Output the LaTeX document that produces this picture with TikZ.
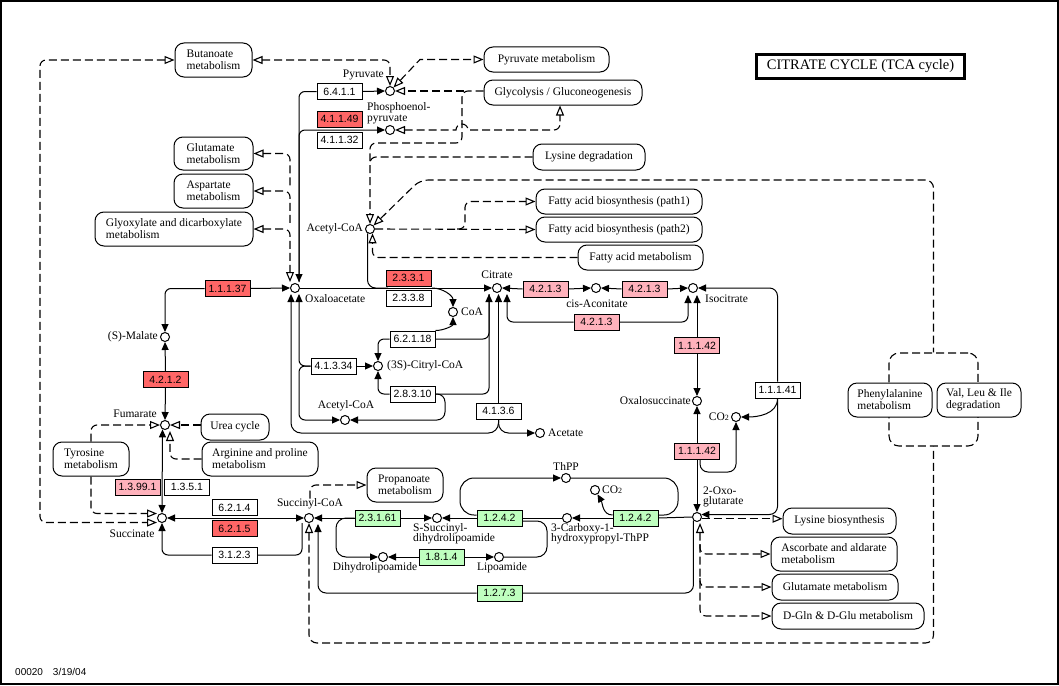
\documentclass[tikz,border=0pt]{standalone}
\usepackage{fontspec}
\setmainfont{Liberation Serif}
\newfontfamily\ecfont{Liberation Sans}
\usetikzlibrary{arrows.meta,calc}
\pgfdeclarelayer{bg}
\pgfsetlayers{bg,main}
\definecolor{ecred}{RGB}{255,102,102}
\definecolor{ecpink}{RGB}{255,178,188}
\definecolor{ecgreen}{RGB}{191,255,191}
\tikzset{
  ec/.style={draw, line width=1pt, minimum width=45pt, minimum height=16pt, inner sep=0pt, fill=white, font=\ecfont\fontsize{10.5}{12}\selectfont},
  cpd/.style={draw, circle, line width=1pt, minimum size=9pt, inner sep=0pt, fill=white},
  lbl/.style={inner sep=0pt, font=\fontsize{11.5}{10.5}\selectfont},
  mapc/.style={draw, line width=1pt, rounded corners=9pt, inner sep=0pt, fill=white, font=\fontsize{11.5}{12}\selectfont},
  mapl/.style={mapc, align=left},
  ln/.style={draw, line width=1pt},
  dl/.style={draw, line width=1.1pt, dash pattern=on 8pt off 4pt},
  aE/.style={-{Triangle[length=8pt,width=7pt]}},
  aB/.style={{Triangle[length=8pt,width=7pt]}-{Triangle[length=8pt,width=7pt]}},
  oE/.style={-{Triangle[open,length=10pt,width=8pt]}},
  oS/.style={{Triangle[open,length=10pt,width=8pt]}-},
  oB/.style={{Triangle[open,length=10pt,width=8pt]}-{Triangle[open,length=10pt,width=8pt]}},
}
\begin{document}
\begin{tikzpicture}[x=1pt,y=1pt]
\path[use as bounding box] (0,0) rectangle (1059,-685);
\draw[line width=2pt] (1,-1) rectangle (1058,-684);

% title and footer
\node[draw, line width=3pt, minimum width=208pt, minimum height=24pt, inner sep=0pt, font=\fontsize{14.5}{16}\selectfont] (title) at (860.5,-66.5) {CITRATE CYCLE (TCA cycle)};
\node[anchor=west, inner sep=0pt, font=\ecfont\fontsize{10}{12}\selectfont] (foot) at (15,-672) {00020\quad 3/19/04};

% pathway maps
\node[mapl, minimum width=77pt, minimum height=34pt] (butm) at (213.5,-60) {Butanoate\\metabolism};
\node[mapc, minimum width=125pt, minimum height=25pt] (pyrm) at (546.5,-59.5) {Pyruvate metabolism};
\node[mapc, minimum width=158pt, minimum height=25pt] (glym) at (563,-92.5) {Glycolysis / Gluconeogenesis};
\node[mapl, minimum width=79pt, minimum height=33pt] (glum) at (213.5,-153.5) {Glutamate\\metabolism};
\node[mapl, minimum width=79pt, minimum height=34pt] (aspm) at (213.5,-191) {Aspartate\\metabolism};
\node[mapl, minimum width=158pt, minimum height=34pt] (glxm) at (174,-229) {Glyoxylate and dicarboxylate\\metabolism};
\node[mapc, minimum width=112pt, minimum height=26pt] (lysd) at (589,-157) {Lysine degradation};
\node[mapc, minimum width=166pt, minimum height=25pt] (fab1) at (619,-201.5) {Fatty acid biosynthesis (path1)};
\node[mapc, minimum width=166pt, minimum height=25pt] (fab2) at (619,-229.5) {Fatty acid biosynthesis (path2)};
\node[mapc, minimum width=125pt, minimum height=25pt] (fam) at (640.5,-257.5) {Fatty acid metabolism};
\node[mapc, minimum width=68pt, minimum height=26pt] (urea) at (235,-427) {Urea cycle};
\node[mapl, minimum width=116pt, minimum height=34pt] (argm) at (260,-459) {Arginine and proline\\metabolism};
\node[mapl, minimum width=76pt, minimum height=34pt] (tyrm) at (91,-459) {Tyrosine\\metabolism};
\node[mapl, minimum width=76pt, minimum height=34pt] (prom) at (405,-485) {Propanoate\\metabolism};
\node[dl, rounded corners=10pt, minimum width=89pt, minimum height=93pt] (pvbox) at (933.5,-399.5) {};
\node[mapl, minimum width=84pt, minimum height=34pt] (phem) at (890,-400) {Phenylalanine\\metabolism};
\node[mapl, minimum width=84pt, minimum height=34pt] (valm) at (979,-400) {Val, Leu \& Ile\\degradation};
\node[mapc, minimum width=113pt, minimum height=26pt] (lysb) at (839.5,-521) {Lysine biosynthesis};
\node[mapl, minimum width=126pt, minimum height=34pt] (ascm) at (834,-554) {Ascorbate and aldarate\\metabolism};
\node[mapc, minimum width=126pt, minimum height=26pt] (glum2) at (835,-587) {Glutamate metabolism};
\node[mapc, minimum width=152pt, minimum height=26pt] (dglm) at (848,-616) {D-Gln \& D-Glu metabolism};

% enzymes
\node[ec] (e6411) at (339.5,-91.5) {6.4.1.1};
\node[ec, fill=ecred] (e41149) at (339.5,-119) {4.1.1.49};
\node[ec] (e41132) at (339.5,-140) {4.1.1.32};
\node[ec, fill=ecred] (e11137) at (227.5,-288.5) {1.1.1.37};
\node[ec, fill=ecred] (e2331) at (408.5,-278) {2.3.3.1};
\node[ec] (e2338) at (408.5,-298) {2.3.3.8};
\node[ec, fill=ecpink] (e4213a) at (545.5,-289) {4.2.1.3};
\node[ec, fill=ecpink] (e4213b) at (644.5,-289) {4.2.1.3};
\node[ec, fill=ecpink] (e4213c) at (596.5,-322) {4.2.1.3};
\node[ec] (e62118) at (412.5,-339) {6.2.1.18};
\node[ec] (e41334) at (333.5,-366) {4.1.3.34};
\node[ec] (e28310) at (412.5,-394) {2.8.3.10};
\node[ec] (e4136) at (498.5,-411) {4.1.3.6};
\node[ec, fill=ecred] (e4212) at (165.5,-379.5) {4.2.1.2};
\node[ec, fill=ecpink] (e11142a) at (697,-345.5) {1.1.1.42};
\node[ec] (e11141) at (777.5,-390) {1.1.1.41};
\node[ec, fill=ecpink] (e11142b) at (697,-451) {1.1.1.42};
\node[ec, fill=ecpink] (e13991) at (137.5,-487) {1.3.99.1};
\node[ec] (e1351) at (187,-487) {1.3.5.1};
\node[ec] (e6214) at (234.5,-507.5) {6.2.1.4};
\node[ec, fill=ecred] (e6215) at (234.5,-528.5) {6.2.1.5};
\node[ec] (e3123) at (234.5,-555) {3.1.2.3};
\node[ec, fill=ecgreen] (e23161) at (377.5,-518) {2.3.1.61};
\node[ec, fill=ecgreen] (e1242a) at (499.5,-518) {1.2.4.2};
\node[ec, fill=ecgreen] (e1242b) at (635.5,-518) {1.2.4.2};
\node[ec, fill=ecgreen] (e1814) at (441.5,-557) {1.8.1.4};
\node[ec, fill=ecgreen] (e1273) at (499.5,-593) {1.2.7.3};

% compounds
\node[cpd] (pyr) at (390,-91) {};
\node[cpd] (pep) at (390,-130) {};
\node[cpd] (acoa) at (370,-229) {};
\node[cpd] (oaa) at (295,-288) {};
\node[cpd] (cit) at (497,-288) {};
\node[cpd] (cis) at (596,-288) {};
\node[cpd] (icit) at (693,-288) {};
\node[cpd] (coa) at (453,-312) {};
\node[cpd] (ccoa) at (378,-366) {};
\node[cpd] (acoa2) at (345,-420) {};
\node[cpd] (acet) at (540,-433) {};
\node[cpd] (mal) at (165,-337) {};
\node[cpd] (fum) at (165,-425) {};
\node[cpd] (osuc) at (697,-401) {};
\node[cpd] (co2a) at (736,-417) {};
\node[cpd] (akg) at (697,-517) {};
\node[cpd] (succ) at (162,-518) {};
\node[cpd] (scoa) at (309,-518) {};
\node[cpd] (ssd) at (437,-518) {};
\node[cpd] (dhl) at (383,-557) {};
\node[cpd] (lip) at (499,-557) {};
\node[cpd] (chp) at (567,-518) {};
\node[cpd] (thpp) at (566,-478) {};
\node[cpd] (co2b) at (595,-490) {};

% compound labels
\node[lbl, anchor=east] (lpyr) at (384,-75) {Pyruvate};
\node[lbl, anchor=west, align=left] (lpep) at (367,-113.5) {Phosphoenol-\\pyruvate};
\node[lbl, anchor=east] (lacoa) at (363,-229) {Acetyl-CoA};
\node[lbl, anchor=west] (loaa) at (305,-299) {Oxaloacetate};
\node[lbl] (lcit) at (497,-275) {Citrate};
\node[lbl] (lcis) at (597,-304) {cis-Aconitate};
\node[lbl, anchor=west] (licit) at (705,-299) {Isocitrate};
\node[lbl, anchor=west] (lcoa) at (461,-312) {CoA};
\node[lbl, anchor=west] (lccoa) at (387,-366) {(3S)-Citryl-CoA};
\node[lbl] (lacoa2) at (346,-406) {Acetyl-CoA};
\node[lbl, anchor=west] (lacet) at (548,-433) {Acetate};
\node[lbl, anchor=east] (lmal) at (158,-337) {(S)-Malate};
\node[lbl, anchor=east] (lfum) at (157,-414) {Fumarate};
\node[lbl, anchor=east] (losuc) at (691,-401) {Oxalosuccinate};
\node[lbl, anchor=east] (lco2a) at (729,-417) {CO{\fontsize{8}{8}\selectfont 2}};
\node[lbl, anchor=west, align=left] (lakg) at (703,-497) {2-Oxo-\\glutarate};
\node[lbl] (lsucc) at (132,-534) {Succinate};
\node[lbl] (lscoa) at (310,-504) {Succinyl-CoA};
\node[lbl, anchor=west, align=left] (lssd) at (413,-533.5) {S-Succinyl-\\dihydrolipoamide};
\node[lbl] (ldhl) at (375,-568) {Dihydrolipoamide};
\node[lbl] (llip) at (502,-568) {Lipoamide};
\node[lbl, anchor=west, align=left] (lchp) at (551,-533.5) {3-Carboxy-1-\\hydroxypropyl-ThPP};
\node[lbl] (lthpp) at (566,-467) {ThPP};
\node[lbl, anchor=west] (lco2b) at (602,-490) {CO{\fontsize{8}{8}\selectfont 2}};

\begin{pgfonlayer}{bg}
% ---- dashed map links (top) ----
\draw[dl,oB,rounded corners=6pt] (butm.east) -| (pyr.north);
\draw[dl,oB] (pyr.north east) -- (420,-59.5) -- (pyrm.west);
\coordinate (gj) at (464,-91);
\coordinate (kc) at (370,-161);
\draw[dl,oE] (gj) -- (pyr.east);
\draw[dl,rounded corners=6pt] (glym.west |- pyr.east) -| (462,-143) -| (kc);
\draw[dl,oE,rounded corners=6pt] (lysd.west) -| (acoa.north);
\draw[dl,oB] (pep.east) -- (456,-130) arc[start angle=180,end angle=0,radius=6pt] [rounded corners=6pt] -| ($(glym.south)+(-3,0)$);
\draw[dl,oS,rounded corners=8pt] (acoa.north east) -- (420,-180) -| (pvbox.north);
\draw[dl,oE] (acoa.east) -- (fab2.west);
\coordinate (br1) at (457,-229);
\draw[dl,oE,rounded corners=6pt] (br1) -| (465,-201.5) -- (fab1.west);
\draw[dl,oE,rounded corners=6pt] (fam.west) -| (acoa.-60);
\draw[dl,oS,rounded corners=6pt] (glum.east) -| (290,-186);
\draw[dl,oS,rounded corners=6pt] (aspm.east) -| (290,-224);
\draw[dl,oB,rounded corners=6pt] (glxm.east) -| ($(oaa.center)+(-5,6)$);
\draw[dl,oB,rounded corners=6pt] (butm.west) -| (40,-522.5) -- ($(succ.center)+(-5,-4.5)$);

% ---- solid reactions (top) ----
\draw[ln,aE] (e6411.east) -- (pyr.west);
\draw[ln,aE,rounded corners=6pt] (e6411.west) -| ($(oaa.center)+(4,6)$);
\draw[ln,aE,rounded corners=6pt] ($(oaa.center)+(4,6)$) |- (pep.west);
\draw[ln,aE] (e11137.east) -- (oaa.west);
\draw[ln,aE,rounded corners=6pt] (e11137.west) -| (mal.north);
\draw[ln,aE] (oaa.east) -- (cit.west);
\coordinate (j1) at (388,-288);
\draw[ln,rounded corners=8pt] (acoa.-120) |- (j1);
\coordinate (j2) at (432,-288);
\draw[ln,aE] (j2) to[out=0,in=90] (coa.north);

% citryl-CoA
\draw[ln,aE,rounded corners=6pt] (e62118.east) -| ($(cit.center)+(-8,-6)$);
\draw[ln,aE,rounded corners=6pt] (e62118.west) -| (ccoa.north);
\draw[ln,aE] (e62118.north east) to[out=0,in=-90] (coa.south);
\draw[ln,aE,rounded corners=6pt] (e28310.west) -| (ccoa.south);
\draw[ln,rounded corners=6pt] (e28310.east) -| ($(cit.center)+(-8,-6)$);
\draw[ln,aE,rounded corners=8pt] (e28310.east) -- (445,-394) -- (445,-420) -- (acoa2.east);
\draw[ln,aE] (e41334.east) -- (ccoa.west);
\draw[ln,aE,rounded corners=6pt] (e41334.west) -| ($(oaa.center)+(4,-6)$);
\draw[ln,aE,rounded corners=6pt] (e41334.west) -| (299,-420) -- (acoa2.west);
\draw[ln,aE] (e4136.north) -- ($(cit.center)+(1.5,-6)$);
\draw[ln,aE,rounded corners=10pt] (e4136.south) |- (291,-433) -- ($(oaa.center)+(-4,-6)$);
\draw[ln,aE,rounded corners=10pt] (e4136.south) |- (acet.west);

% aconitase, isocitrate
\draw[ln,aE] (e4213a.west) -- (cit.east);
\draw[ln,aE] (e4213a.east) -- (cis.west);
\draw[ln,aE] (e4213b.west) -- (cis.east);
\draw[ln,aE] (e4213b.east) -- (icit.west);
\draw[ln,aE,rounded corners=6pt] (e4213c.west) -| ($(cit.center)+(10,-6)$);
\draw[ln,aE,rounded corners=6pt] (e4213c.east) -| ($(icit.center)+(-5,-7)$);
\draw[ln,aE] (e11142a.north) -- ($(icit.center)+(4,-7)$);
\draw[ln,aE] (e11142a.south) -- (osuc.north);
\draw[ln,aE] (e11142b.north) -- (osuc.south);
\draw[ln,aE] (e11142b.south) -- (akg.north);
\draw[ln,aE,rounded corners=8pt] ($(e11142b.south)+(3,0)$) |- (736,-472) -- (co2a.south);
\draw[ln,aE,rounded corners=8pt] (e11141.north) |- (icit.east);
\draw[ln,aE,rounded corners=8pt] (e11141.south) |- (akg.30);
\draw[ln,aE] (e11141.south) to[out=-90,in=0] (co2a.east);

% malate, fumarate, succinate
\draw[ln,aE] (e4212.north) -- (mal.south);
\draw[ln,aE] (e4212.south) -- (fum.north);
\draw[ln,aB] (fum.240) -- (succ.north);
\draw[dl,oE,rounded corners=6pt] (argm.west) -| ($(fum.center)+(5,-6)$);
\draw[dl,oE] (urea.west |- fum.east) -- (fum.east);
\draw[dl,oE,rounded corners=6pt] (tyrm.north) |- (fum.west);
\draw[dl,oE,rounded corners=6pt] (tyrm.south) |- ($(succ.center)+(-5,4.5)$);
\draw[ln,aB] (succ.east) -- (scoa.west);
\draw[ln,aE,rounded corners=6pt] (e3123.west) -| (succ.south);
\draw[ln,rounded corners=6pt] (e3123.east) -| ($(scoa.center)+(-7,-5)$);

% succinyl-CoA and 2-oxoglutarate dehydrogenase
\draw[dl,oS,rounded corners=8pt] (scoa.south) -- (309,-643) -| (pvbox.south);
\draw[dl,oE,rounded corners=6pt] (lscoa.north) |- (prom.west);
\draw[ln,aE,rounded corners=8pt] (e1273.west) -| ($(scoa.center)+(9,-6)$);
\draw[ln,rounded corners=8pt] (e1273.east) -| (akg.south west);
\draw[ln,aE] (e23161.west) -- (scoa.east);
\draw[ln,aE] (e23161.east) -- (ssd.west);
\draw[ln,aE,rounded corners=10pt] (e23161.west) -- (336,-518) -- (336,-557) -- (dhl.west);
\draw[ln,aE] (e1242a.west) -- (ssd.east);
\draw[ln] (e1242a.east) -- (chp.west);
\draw[ln,rounded corners=10pt] ($(e1242a.east)+(0,-3)$) -- (547,-521) -- (547,-557) -- (lip.east);
\draw[ln,aE,rounded corners=14pt] ($(e1242a.west)+(0,3)$) -- (460,-515) -- (460,-478) -- (thpp.west);
\draw[ln,rounded corners=14pt] (thpp.east) -- (678,-478) -- (678,-515) -- ($(e1242b.east)+(0,3)$);
\draw[ln,aE] (e1814.west) -- (dhl.east);
\draw[ln,aE] (e1814.east) -- (lip.west);
\draw[ln,aE] (e1242b.west) -- (chp.east);
\draw[ln] (e1242b.east) -- (akg.west);
\draw[ln,aE] ($(e1242b.west)+(0,3)$) to[out=180,in=-60] (co2b.-60);

% 2-oxoglutarate map links
\draw[dl,oE] (akg.-20) -- (lysb.west |- akg.-20);
\draw[dl,oB,rounded corners=6pt] ($(akg.center)+(3,-6)$) |- (dglm.west);
\coordinate (kb) at (700,-544);
\coordinate (kd) at (700,-578);
\draw[dl,oE,rounded corners=6pt] (kb) |- (ascm.west);
\draw[dl,oE,rounded corners=6pt] (kd) |- (glum2.west);
\end{pgfonlayer}
\end{tikzpicture}
\end{document}
